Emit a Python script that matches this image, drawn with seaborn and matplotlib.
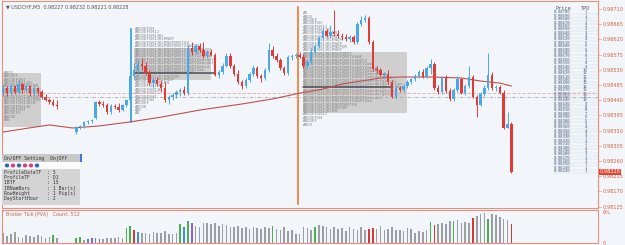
import numpy as np
import matplotlib
matplotlib.use("Agg")
import matplotlib.pyplot as plt
from matplotlib.patches import Rectangle, Circle
import matplotlib.transforms as mtransforms
import seaborn as sns

N = None
# ---------------- OHLC (USDCHF M5) ----------------
opens = [0.98464,0.98476,0.98461,0.98482,0.98464,0.98488,0.98470,0.98482,0.98461,0.98476,
         0.98464,0.98450,0.98441,0.98435,0.98426,N,N,N,N,0.98346,
         0.98361,0.98364,0.98376,0.98378,0.98387,0.98435,0.98429,0.98426,0.98405,0.98423,
         0.98420,0.98411,0.98426,0.98441,0.98512,0.98529,0.98547,0.98541,0.98521,0.98491,
         0.98500,0.98488,0.98476,0.98441,0.98450,0.98455,0.98464,0.98470,0.98461,0.98595,
         0.98583,0.98600,0.98589,0.98571,0.98583,0.98574,0.98515,0.98524,0.98541,0.98571,
         0.98541,0.98518,0.98494,0.98482,0.98500,0.98518,0.98535,0.98512,0.98506,0.98529,
         0.98589,0.98571,0.98559,0.98535,0.98521,0.98568,0.98571,0.98574,0.98568,0.98541,
         0.98553,0.98583,0.98600,0.98624,0.98645,0.98630,0.98642,0.98636,0.98630,0.98627,
         0.98621,0.98627,0.98612,0.98666,0.98677,0.98683,0.98612,0.98532,0.98529,0.98515,
         0.98518,0.98494,0.98450,0.98476,0.98470,0.98482,0.98494,0.98503,0.98512,0.98524,
         0.98509,0.98535,0.98547,0.98476,0.98464,0.98506,0.98467,0.98444,0.98470,0.98503,
         0.98461,0.98482,0.98509,0.98450,0.98426,0.98458,0.98476,0.98515,0.98476,0.98479,
         0.98461,0.98358,0.98370]
highs = [0.98488,0.98482,0.98488,0.98485,0.98500,0.98494,0.98491,0.98485,0.98482,0.98479,
         0.98470,0.98458,0.98447,0.98444,0.98441,N,N,N,N,0.98364,
         0.98367,0.98378,0.98381,0.98384,0.98438,0.98441,0.98438,0.98432,0.98429,0.98429,
         0.98432,0.98429,0.98444,0.98524,0.98550,0.98559,0.98565,0.98553,0.98529,0.98506,
         0.98509,0.98500,0.98494,0.98455,0.98461,0.98470,0.98476,0.98482,0.98603,0.98612,
         0.98606,0.98609,0.98612,0.98589,0.98592,0.98580,0.98529,0.98550,0.98580,0.98580,
         0.98547,0.98529,0.98500,0.98506,0.98524,0.98544,0.98541,0.98518,0.98535,0.98609,
         0.98600,0.98580,0.98565,0.98541,0.98574,0.98577,0.98580,0.98583,0.98577,0.98559,
         0.98595,0.98606,0.98630,0.98654,0.98651,0.98663,0.98707,0.98648,0.98639,0.98636,
         0.98633,0.98633,0.98672,0.98689,0.98692,0.98689,0.98618,0.98541,0.98535,0.98524,
         0.98529,0.98500,0.98485,0.98482,0.98488,0.98500,0.98506,0.98518,0.98529,0.98532,
         0.98541,0.98562,0.98553,0.98485,0.98512,0.98515,0.98476,0.98476,0.98512,0.98506,
         0.98488,0.98541,0.98515,0.98455,0.98464,0.98485,0.98580,0.98524,0.98485,0.98485,
         0.98470,0.98405,0.98376]
lows = [0.98452,0.98452,0.98455,0.98458,0.98458,0.98461,0.98464,0.98452,0.98455,0.98455,
        0.98444,0.98438,0.98429,0.98423,0.98414,N,N,N,N,0.98340,
        0.98355,0.98358,0.98370,0.98373,0.98384,0.98423,0.98420,0.98399,0.98399,0.98414,
        0.98405,0.98408,0.98420,0.98438,0.98500,0.98515,0.98529,0.98515,0.98485,0.98476,
        0.98482,0.98464,0.98435,0.98429,0.98441,0.98447,0.98452,0.98455,0.98455,0.98574,
        0.98577,0.98583,0.98565,0.98565,0.98571,0.98512,0.98506,0.98518,0.98538,0.98535,
        0.98512,0.98488,0.98473,0.98476,0.98494,0.98512,0.98506,0.98494,0.98500,0.98524,
        0.98565,0.98553,0.98529,0.98515,0.98515,0.98559,0.98565,0.98565,0.98535,0.98535,
        0.98547,0.98577,0.98595,0.98618,0.98627,0.98624,0.98630,0.98624,0.98618,0.98615,
        0.98612,0.98606,0.98606,0.98660,0.98672,0.98606,0.98526,0.98521,0.98512,0.98506,
        0.98488,0.98447,0.98444,0.98464,0.98464,0.98476,0.98488,0.98497,0.98506,0.98506,
        0.98506,0.98518,0.98470,0.98458,0.98458,0.98461,0.98438,0.98438,0.98464,0.98458,
        0.98455,0.98476,0.98447,0.98390,0.98423,0.98452,0.98470,0.98470,0.98467,0.98458,
        0.98355,0.98358,0.98225]
closes = [0.98476,0.98461,0.98482,0.98464,0.98488,0.98470,0.98482,0.98461,0.98476,0.98464,
          0.98450,0.98441,0.98435,0.98426,0.98423,N,N,N,N,0.98361,
          0.98364,0.98376,0.98378,0.98381,0.98435,0.98429,0.98426,0.98405,0.98423,0.98420,
          0.98411,0.98426,0.98441,0.98512,0.98529,0.98547,0.98541,0.98521,0.98491,0.98500,
          0.98488,0.98476,0.98441,0.98450,0.98455,0.98464,0.98470,0.98461,0.98595,0.98583,
          0.98600,0.98589,0.98571,0.98583,0.98574,0.98515,0.98524,0.98541,0.98571,0.98541,
          0.98518,0.98494,0.98482,0.98500,0.98518,0.98535,0.98512,0.98506,0.98529,0.98589,
          0.98571,0.98559,0.98535,0.98521,0.98568,0.98571,0.98574,0.98568,0.98541,0.98553,
          0.98583,0.98600,0.98624,0.98645,0.98630,0.98642,0.98636,0.98630,0.98627,0.98621,
          0.98627,0.98612,0.98666,0.98677,0.98683,0.98612,0.98532,0.98529,0.98515,0.98518,
          0.98494,0.98450,0.98476,0.98470,0.98482,0.98494,0.98503,0.98512,0.98524,0.98509,
          0.98535,0.98547,0.98476,0.98464,0.98506,0.98467,0.98444,0.98470,0.98503,0.98461,
          0.98482,0.98509,0.98450,0.98426,0.98458,0.98476,0.98515,0.98476,0.98479,0.98461,
          0.98358,0.98370,0.98228]

# moving average read at sample bars
ma_bar = [0, 5, 12, 18, 25, 33, 41, 51, 62, 70, 77, 83, 88, 93, 98, 103, 111, 119, 124, 129, 132]
ma_val = [0.98346, 0.98355, 0.98367, 0.98358, 0.98364, 0.98376, 0.98390, 0.98411, 0.98429, 0.98444,
          0.98461, 0.98473, 0.98488, 0.98497, 0.98506, 0.98509, 0.98509, 0.98506, 0.98497, 0.98491, 0.98482]

# tick volume (%)
volumes = [1.9,1.4,1.8,2.1,1.2,1.0,1.5,1.3,1.1,1.6,1.4,1.0,1.2,1.5,0.9,N,N,N,N,1.0,
           1.1,0.6,0.8,0.9,0.9,0.8,0.7,0.9,1.0,0.9,1.1,1.0,2.8,3.3,2.5,2.1,1.9,2.0,1.8,2.1,
           1.9,2.0,2.2,1.8,1.7,2.0,3.6,3.0,4.2,3.9,3.3,3.1,3.8,3.9,3.7,3.9,3.2,3.6,3.4,3.0,
           3.1,3.3,2.9,3.1,2.7,3.0,2.8,2.6,3.1,2.9,3.3,2.6,2.4,3.0,2.2,2.5,1.8,1.7,3.0,2.8,
           2.4,3.0,3.4,3.2,3.0,2.7,3.1,2.6,2.9,2.3,3.1,2.7,2.5,3.0,2.4,2.7,2.9,2.6,3.2,2.4,
           2.7,3.0,2.5,2.4,2.2,2.9,2.6,2.0,2.3,2.1,2.5,4.0,3.5,3.6,3.9,3.7,4.2,4.2,4.3,3.9,
           4.1,3.8,4.8,5.2,5.5,5.7,4.5,5.6,5.4,4.9,4.6,4.4,3.6]
vol_green = [13, 19, 20, 32, 33, 46, 48, 70, 81, 111, 117, 126]
vol_red = [34, 95, 96, 112, 122, 132]
vol_blue = [22, 24, 35, 47]
vol_purple = [23, 25, 49]

# right price axis
price_ticks = [0.98710, 0.98665, 0.98620, 0.98575, 0.98530, 0.98485, 0.98440,
               0.98395, 0.98350, 0.98305, 0.98260, 0.98215, 0.98170, 0.98125]
last_price = 0.98228
pivot_a = 0.98461
pivot_b = 0.98449

# value-area boxes: (first bar, last bar, top, bottom)
va_boxes = [(-0.3, 9.9, 0.98521, 0.98361), (34.0, 54.0, 0.98595, 0.98500), (78.0, 104.8, 0.98583, 0.98402)]
poc_lines = [(34.0, 55.0, 0.98521), (78.0, 101.0, 0.98479)]
profile_start = [0.0, 34.0, 77.5]
profile_top = [0.98521, 0.98651, 0.98698]
profile_rows = [
    [4, 6, 9, 12, 14, 15, 16, 16, 15, 13, 11, 9, 7, 5, 3],
    [8, 10, 12, 16, 22, 26, 28, 30, 31, 32, 32, 30, 28, 24, 18, 16, 14, 12, 11, 10, 9, 8, 6, 5, 3, 2],
    [2, 4, 6, 8, 10, 12, 14, 14, 16, 16, 18, 16, 20, 24, 26, 28, 30, 32, 34, 36, 38, 40, 40, 38, 36,
     32, 28, 22, 18, 14, 10, 8, 6, 4],
]
blue_session_bar = 33.3
orange_session_bar = 76.6

# TPO table
tpo_prices = [0.98700,0.98690,0.98680,0.98670,0.98660,0.98650,0.98640,0.98630,0.98620,0.98610,
              0.98600,0.98590,0.98580,0.98570,0.98560,0.98550,0.98540,0.98530,0.98520,0.98510,
              0.98500,0.98490,0.98480,0.98470,0.98460,0.98450,0.98440,0.98430,0.98420,0.98410,
              0.98400,0.98390,0.98380,0.98370,0.98360,0.98350,0.98340,0.98330,0.98320,0.98310,
              0.98300,0.98290,0.98280,0.98270,0.98260,0.98250,0.98240,0.98230]
tpo_counts = [1,1,1,2,2,2,3,4,4,5,5,6,7,8,7,8,9,10,12,11,12,13,14,15,13,12,10,9,8,8,
              7,6,5,5,4,4,3,3,2,2,2,2,1,1,1,1,1,1]

settings_rows = ["ProfileDataTF  : 5", "ProfileTF      : D1", "IBTF           : 15",
                 "IBNumBars      : 1 Bar(s)", "RowHeight      : 1 Pip(s)", "DayStartHour   : 2"]
button_colors = ["#2f5fbf", "#d0407a", "#2f5fbf", "#d0407a", "#d0407a", "#2f5fbf"]

# ---------------- drawing ----------------
sns.set_theme(style="white")
plt.rcParams["font.family"] = ["DejaVu Sans"]
BG = "#f2f6fb"
BORDER = "#e8907a"
UP = "#4aa8e6"
DOWN = "#e23b35"

W, H = 625, 245
fig = plt.figure(figsize=(W / 100, H / 100), dpi=100, facecolor=BG)

def frac(x0, y0, x1, y1):
    return [x0 / W, 1 - y1 / H, (x1 - x0) / W, (y1 - y0) / H]

ax = fig.add_axes(frac(2, 1, 598, 208))
axv = fig.add_axes(frac(2, 210, 598, 243))
for a in (ax, axv):
    a.set_facecolor(BG)
    for s in a.spines.values():
        s.set_color(BORDER)
        s.set_linewidth(0.8)
    a.set_xlim(-0.3, 154.5)
    a.set_xticks([])

ax.set_ylim(0.98121, 0.98734)

o = np.array(opens, dtype=float)
h = np.array(highs, dtype=float)
l = np.array(lows, dtype=float)
c = np.array(closes, dtype=float)
x = np.arange(len(o))
ok = ~np.isnan(o)
col = np.where(c >= o, UP, DOWN)

# value area boxes and POC
for (b0, b1, top, bot) in va_boxes:
    ax.add_patch(Rectangle((b0, bot), b1 - b0, top - bot, facecolor="#cfcfcf", edgecolor="none", zorder=1))

letters = "ABCDEFGHIJKLMNOPQRSTUVWXYZabcdefghijklmnopqrstuvwxyz"
for st, top, rows in zip(profile_start, profile_top, profile_rows):
    for k, nch in enumerate(rows):
        ax.text(st + 0.3, top - k * 0.0001, letters[:nch], fontsize=3.0, family="DejaVu Sans Mono",
                color="#858585", va="center", ha="left", zorder=2)

for (b0, b1, p) in poc_lines:
    ax.plot([b0, b1], [p, p], color="#4d4d55", lw=1.1, zorder=3)

# pivot dashed lines
ax.axhline(pivot_a, color="#e8a6a0", lw=0.6, ls=(0, (4, 2)), zorder=2)
ax.axhline(pivot_b, color="#a8a8a8", lw=0.6, ls=(0, (4, 2, 1, 2)), zorder=2)

# session lines
ax.plot([blue_session_bar] * 2, [0.98376, 0.98651], color=UP, lw=1.4, zorder=3)
ax.axvline(orange_session_bar, ymin=0.02, ymax=0.97, color="#f08a4b", lw=1.4, zorder=3)

# moving average
sns.lineplot(x=ma_bar, y=ma_val, ax=ax, color="#c0504d", lw=0.8, zorder=4)

# candles
ax.vlines(x[ok], l[ok], h[ok], colors=col[ok], lw=0.7, zorder=5)
body_lo = np.minimum(o, c)
body_h = np.maximum(np.abs(c - o), 0.000025)
ax.bar(x[ok], body_h[ok], bottom=body_lo[ok], width=0.62, color=col[ok], edgecolor="none", zorder=6)

# right axis labels
ax.yaxis.tick_right()
ax.set_yticks(price_ticks)
ax.set_yticklabels([f"{p:.5f}" for p in price_ticks], fontsize=3.6, color="#d9603b")
ax.tick_params(axis="y", length=2, width=0.5, color=BORDER, pad=1.5)
ax.text(1.003, last_price, f"{last_price:.5f}", transform=mtransforms.blended_transform_factory(ax.transAxes, ax.transData),
        fontsize=3.6, color="white", va="center", ha="left",
        bbox=dict(boxstyle="square,pad=0.15", fc="#e2452e", ec="none"), zorder=10, clip_on=False)

# TPO table
tr = mtransforms.blended_transform_factory(ax.transAxes, ax.transData)
ax.text(0.929, 0.98712, "Price", transform=tr, fontsize=3.8, family="DejaVu Sans Mono", color="#505a6a", va="center", ha="left")
ax.text(0.972, 0.98712, "TPO", transform=tr, fontsize=3.8, family="DejaVu Sans Mono", color="#505a6a", va="center", ha="left")
for p, n in zip(tpo_prices, tpo_counts):
    ax.text(0.925, p, f"{p:.5f}", transform=tr, fontsize=2.9, family="DejaVu Sans Mono", color="#4a5a75", va="center", ha="left")
    ax.text(0.982, p, f"{n}", transform=tr, fontsize=2.9, family="DejaVu Sans Mono", color="#4a5a75", va="center", ha="right")
    ax.plot([0.925, 1.0], [p - 0.00005] * 2, transform=tr, color="#cdd6e0", lw=0.3)

# title
ax.text(0.006, 0.985, "\u25bc USDCHF,M5  0.98227 0.98232 0.98221 0.98228", transform=ax.transAxes,
        fontsize=3.5, color="#555555", va="top", ha="left")

# volume panel
v = np.array(volumes, dtype=float)
vcol = np.array(["#9c9ea5"] * len(v), dtype=object)
vcol[vol_green] = "#4cb050"
vcol[vol_red] = "#d63a33"
vcol[vol_blue] = "#3d8fe0"
vcol[vol_purple] = "#9a5ae0"
okv = ~np.isnan(v)
axv.bar(x[okv], v[okv], width=0.42, color=list(vcol[okv]), edgecolor="none")
axv.set_ylim(0, 6.3)
axv.yaxis.tick_right()
axv.set_yticks([0, 6])
axv.set_yticklabels(["0", "6%"], fontsize=3.6, color="#d9603b")
axv.tick_params(axis="y", length=0, pad=3)
axv.text(0.006, 0.93, "Broker Tick (PVA)   Count: 512", transform=axv.transAxes,
         fontsize=3.5, color="#c9674f", va="top", ha="left")

# settings panel overlay (pixel coordinates)
ov = fig.add_axes([0, 0, 1, 1], facecolor="none")
ov.set_xlim(0, W)
ov.set_ylim(H, 0)
ov.axis("off")
ov.add_patch(Rectangle((2, 154), 78, 8, facecolor="#c8c8c8", edgecolor="none"))
ov.add_patch(Rectangle((80, 154), 1.5, 8, facecolor="#3a7bd5", edgecolor="none"))
ov.text(4, 158, "On/OFF Setting  On|Off", fontsize=3.5, family="DejaVu Sans Mono", color="#333333", va="center")
ov.add_patch(Rectangle((2, 162), 78, 7, facecolor="#fbfbfb", edgecolor="none"))
for k, bc in enumerate(button_colors):
    ov.add_patch(Circle((7 + k * 6, 165.5), 2.3, facecolor=bc, edgecolor="white", lw=0.3))
ov.add_patch(Rectangle((2, 169), 78, 36, facecolor="#d4d4d4", edgecolor="none"))
for k, s in enumerate(settings_rows):
    ov.text(4, 172.5 + k * 5.2, s, fontsize=3.4, family="DejaVu Sans Mono", color="#333333", va="center")

fig.savefig("out.png", dpi=100, facecolor=BG)
